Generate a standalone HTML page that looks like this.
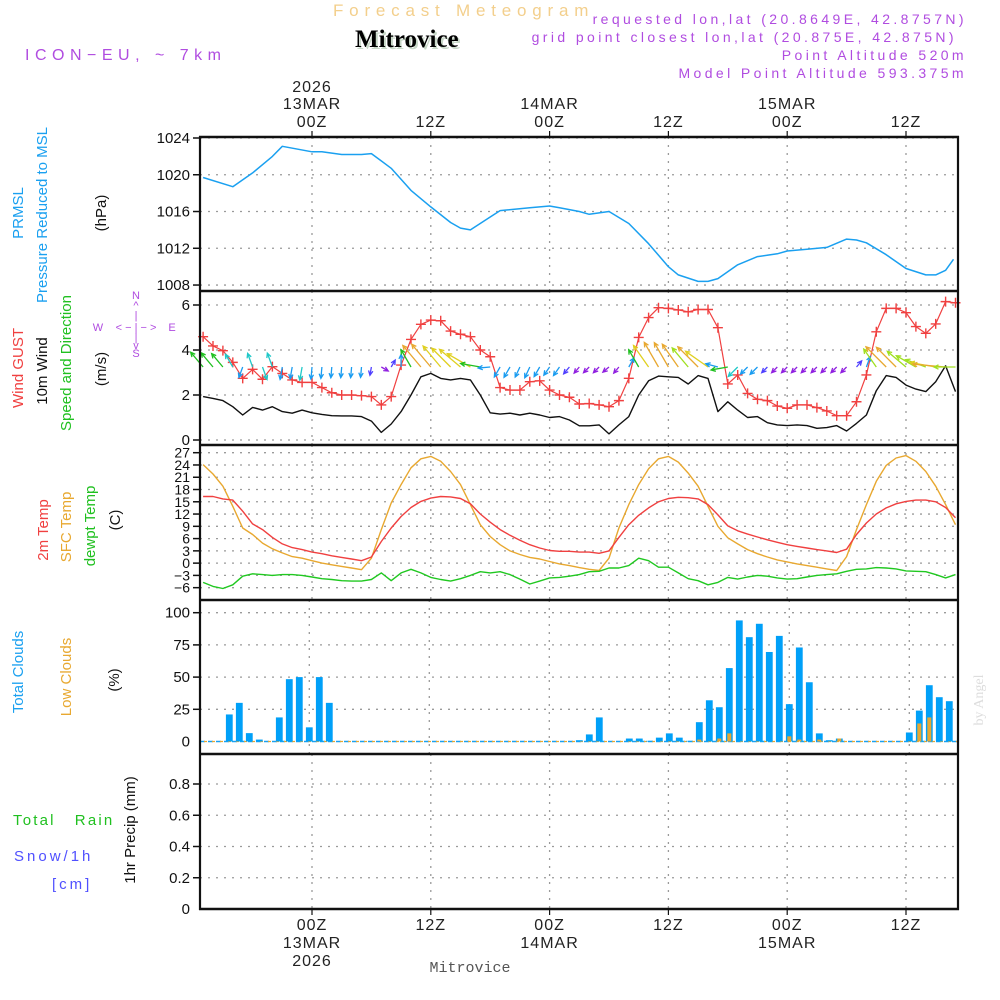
<!DOCTYPE html>
<html><head><meta charset="utf-8"><title>Meteogram Mitrovice</title>
<style>
html,body{margin:0;padding:0;background:#fff;width:1000px;height:1000px;overflow:hidden}
svg{display:block;font-family:"Liberation Sans",sans-serif}
.pur{fill:#b04ce0;font-size:14px;letter-spacing:3.4px}
</style></head>
<body>
<svg id="chart" width="1000" height="1000" viewBox="0 0 1000 1000" xmlns="http://www.w3.org/2000/svg">
<text x="333" y="16" font-size="17" fill="#f3cf8c" letter-spacing="5.8">Forecast Meteogram</text>
<text x="357" y="49" font-family="Liberation Serif,serif" font-weight="bold" font-size="25" fill="#c8d8c8">Mitrovice</text>
<text x="355" y="47" font-family="Liberation Serif,serif" font-weight="bold" font-size="25" fill="#000">Mitrovice</text>
<text class="pur" x="967" y="24" text-anchor="end">requested lon,lat (20.8649E, 42.8757N)</text>
<text class="pur" x="957" y="42" text-anchor="end">grid point closest lon,lat (20.875E, 42.875N)</text>
<text class="pur" x="967" y="60" text-anchor="end">Point Altitude 520m</text>
<text class="pur" x="967" y="78" text-anchor="end">Model Point Altitude 593.375m</text>
<text x="25" y="60" font-size="16" fill="#b04ce0" letter-spacing="5.5">ICON−EU, ~ 7km</text>

<text transform="translate(23,213) rotate(-90)" text-anchor="middle" font-size="15" fill="#1aa0f0">PRMSL</text>
<text transform="translate(47,215) rotate(-90)" text-anchor="middle" font-size="15" fill="#1aa0f0">Pressure Reduced to MSL</text>
<text transform="translate(106,213) rotate(-90)" text-anchor="middle" font-size="15" fill="#111">(hPa)</text>
<text transform="translate(23,368) rotate(-90)" text-anchor="middle" font-size="15" fill="#f04040">Wind GUST</text>
<text transform="translate(47,371) rotate(-90)" text-anchor="middle" font-size="15" fill="#111">10m Wind</text>
<text transform="translate(71,363) rotate(-90)" text-anchor="middle" font-size="15" fill="#20c020">Speed and Direction</text>
<text transform="translate(106,369) rotate(-90)" text-anchor="middle" font-size="15" fill="#111">(m/s)</text>
<g fill="#b04ce0" font-size="11" text-anchor="middle">
<text x="136" y="299">N</text><text x="136" y="309">^</text><text x="136" y="319">|</text>
<text x="98" y="331">W</text><text x="136" y="331">&lt; − | − &gt;</text><text x="172" y="331">E</text>
<text x="136" y="341">|</text><text x="136" y="349">v</text><text x="136" y="357">S</text>
</g>
<text transform="translate(48,530) rotate(-90)" text-anchor="middle" font-size="15" fill="#f04040">2m Temp</text>
<text transform="translate(71,527) rotate(-90)" text-anchor="middle" font-size="15" fill="#e8a830">SFC Temp</text>
<text transform="translate(95,526) rotate(-90)" text-anchor="middle" font-size="15" fill="#20c020">dewpt Temp</text>
<text transform="translate(120,520) rotate(-90)" text-anchor="middle" font-size="15" fill="#111">(C)</text>
<text transform="translate(23,672) rotate(-90)" text-anchor="middle" font-size="15" fill="#1aa0f0">Total Clouds</text>
<text transform="translate(71,677) rotate(-90)" text-anchor="middle" font-size="15" fill="#e8a830">Low Clouds</text>
<text transform="translate(119,680) rotate(-90)" text-anchor="middle" font-size="15" fill="#111">(%)</text>
<text x="13" y="825" font-size="15" fill="#20c020" letter-spacing="2.2" xml:space="preserve">Total   Rain</text>
<text x="14" y="861" font-size="15" fill="#5050ff" letter-spacing="3">Snow/1h</text>
<text x="52" y="889" font-size="15" fill="#5050ff" letter-spacing="3">[cm]</text>
<text transform="translate(135,830) rotate(-90)" text-anchor="middle" font-size="15" fill="#111">1hr Precip (mm)</text>
<text x="470" y="972" text-anchor="middle" font-family="Liberation Mono,monospace" font-size="15" fill="#555">Mitrovice</text>
<text transform="translate(983,700) rotate(-90)" text-anchor="middle" font-family="Liberation Serif,serif" font-size="14" fill="#ddd">by Angel</text>
<g id="plot"></g>
</svg>
<script>
// ---------- data ----------
const hours = [];
for (let h = -11; h <= 65; h++) hours.push(h);
const timeTickHours = [0, 12, 24, 36, 48, 60];
const topTickLines1 = ["2026", "", "", "", "", ""];
const topTickLines2 = ["13MAR", "", "14MAR", "", "15MAR", ""];
const tickZ = ["00Z", "12Z", "00Z", "12Z", "00Z", "12Z"];
const botTickLines2 = ["13MAR", "", "14MAR", "", "15MAR", ""];
const botTickLines3 = ["2026", "", "", "", "", ""];

const pressureHours = [-11,-8,-6,-4,-3,0,1,3,5,6,8,10,12,14,15,16,18,19,22,24,25,27,28,30,32,34,36,37,39,40,41,43,45,47,48,50,52,54,55,56,58,60,62,63,64,64.8];
const pressure = [1019.7,1018.7,1020.2,1022.0,1023.1,1022.5,1022.5,1022.2,1022.2,1022.3,1020.7,1018.3,1016.5,1014.8,1014.2,1014.0,1015.4,1016.1,1016.4,1016.6,1016.4,1016.0,1015.7,1016.0,1014.7,1012.5,1010.0,1009.1,1008.4,1008.4,1008.7,1010.2,1011.1,1011.4,1011.7,1011.9,1012.1,1013.0,1012.9,1012.6,1011.3,1009.8,1009.1,1009.1,1009.6,1010.8];
const pressureTicks = [1008, 1012, 1016, 1020, 1024];

const gust = [4.59,4.18,3.97,3.45,2.74,3.14,2.70,3.26,2.96,2.67,2.56,
 2.56,2.33,2.10,2.0,2.0,1.97,1.93,1.56,1.93,3.33,4.47,5.14,
 5.33,5.3,4.84,4.70,4.59,4.0,3.70,2.33,2.22,2.22,2.59,2.63,
 2.22,2.0,1.90,1.60,1.62,1.56,1.48,1.75,2.74,4.56,5.44,5.88,
 5.85,5.78,5.7,5.8,5.8,4.99,2.49,2.89,2.07,1.81,1.75,1.51,
 1.41,1.56,1.56,1.44,1.29,1.08,1.08,1.70,2.89,4.81,5.85,5.85,
 5.66,5.04,4.74,5.16,6.15,6.1];
const windSpeed = [1.93,1.85,1.75,1.48,1.11,1.45,1.33,1.48,1.26,1.19,1.33,
 1.21,1.14,1.08,1.07,1.07,1.04,0.84,0.34,0.71,1.26,2.0,2.81,
 2.96,2.74,2.67,2.74,2.67,2.0,1.21,1.15,1.19,1.11,1.19,1.11,
 1.0,1.04,0.89,0.63,0.63,0.67,0.27,0.67,1.04,2.0,2.63,2.84,
 2.81,2.78,2.49,2.86,2.74,1.26,1.7,1.33,1.0,1.04,0.77,0.67,
 0.64,0.67,0.64,0.52,0.55,0.64,0.40,0.74,1.11,2.19,2.86,2.78,
 2.44,2.26,2.15,2.59,3.30,2.15];
const windDir = [-40,-40,-40,-30,200,-20,160,-20,190,190,190,
 185,185,185,185,185,185,190,120,30,0,-30,-40,
 -40,-40,-45,-50,-60,-80,-95,210,210,205,205,210,
 215,215,220,220,225,225,230,220,30,-30,-35,-30,
 -30,-35,-40,-45,-55,-75,-100,225,225,225,225,225,
 225,225,225,225,225,225,225,40,20,-35,-45,-45,
 -50,-60,-70,-80,-85,-90];
const windTicks = [0, 2, 4, 6];

const temp2m = [16.3,16.3,15.7,15.4,12.7,9.6,8.2,6.3,4.7,3.8,3.3,
 2.7,2.3,1.8,1.4,1.0,0.6,1.5,5.3,8.6,11.4,13.6,15.1,
 15.9,16.3,16.2,15.8,14.5,12.0,10.0,8.2,6.8,5.6,4.5,3.7,
 3.1,2.9,2.9,2.7,2.7,2.4,3.0,6.3,9.4,11.7,13.5,15.0,
 15.8,16.1,16.0,15.7,14.3,11.8,9.1,7.9,7.1,6.4,5.7,5.1,
 4.5,4.1,3.7,3.3,3.0,2.6,3.4,7.0,9.8,12.0,13.5,14.5,
 15.1,15.4,15.4,15.0,13.6,11.1];
const sfcTemp = [24.1,21.8,18.8,13.9,8.6,7.0,4.9,3.5,2.5,1.6,1.2,
 0.6,0.0,-0.4,-0.8,-1.2,-1.6,1.2,8.2,14.7,19.2,23.3,25.5,
 26.1,24.9,22.4,19.2,14.3,9.4,6.5,4.5,3.0,2.1,1.4,1.0,
 0.4,-0.2,-0.6,-1.1,-1.5,-1.8,1.2,8.6,14.3,19.2,23.1,25.5,
 26.1,24.7,22.0,18.8,13.9,9.0,6.2,4.7,3.3,2.3,1.5,0.8,
 0.3,-0.2,-0.6,-1.0,-1.4,-1.8,1.6,8.2,14.3,20.0,23.9,25.7,
 26.3,24.9,22.4,18.8,14.3,9.4];
const dewpt = [-4.7,-5.7,-6.2,-5.3,-3.2,-2.6,-2.8,-3.0,-2.8,-2.8,-3.0,
 -3.4,-3.8,-4.0,-4.3,-4.4,-4.4,-4.0,-2.4,-4.3,-2.4,-1.5,-2.4,
 -3.5,-4.0,-4.4,-3.8,-3.0,-2.1,-2.4,-2.1,-2.8,-3.9,-5.1,-4.4,
 -3.6,-3.5,-3.2,-2.8,-2.1,-2.0,-1.2,-1.2,-0.6,1.2,0.6,-1.0,
 -1.0,-2.4,-3.8,-4.3,-5.3,-4.7,-3.5,-3.9,-3.4,-3.0,-3.2,-3.6,
 -3.9,-3.8,-3.4,-3.0,-2.8,-2.6,-2.0,-1.5,-1.4,-1.1,-1.2,-1.4,
 -1.9,-2.0,-2.1,-2.8,-3.6,-2.8];
const tempTicks = [-6,-3,0,3,6,9,12,15,18,21,24,27];

const totalClouds = [0,0,0,21,30,6.5,1.5,0,18.7,48.4,50,
 11,50,30,0,0,0,0,0,0,0,0,0,
 0,0,0,0,0,0,0,0,0,0,0,0,
 0,0,0,1,5.5,18.7,0,0,2.3,2.3,0.5,3,
 6.3,3,0.5,15,32,26.6,57,94,81,91.4,69.5,82,
 29,73,46,6.3,1,2.3,0,0,0,0,0,0,
 7,24,43.7,34.4,31.3,0];
const lowClouds = [0,0,0,0,0,0,0,0,0,0,0,
 0,0,0,0,0,0,0,0,0,0,0,0,
 0,0,0,0,0,0,0,0,0,0,0,0,
 0,0,0,0,0,0,0,0,0,0,0,0,
 0,0,0,1.5,0,2.3,6.3,0,0,0,0,0,
 4,1.5,0,1.5,0,2.3,0,0,0,0,0,0,
 0,14,18.7,0,0,0];
const cloudTicks = [0,25,50,75,100];
const precipTicks = [0,0.2,0.4,0.6,0.8];

// ---------- scales ----------
const X0 = 200, X1 = 958;
const xT = h => 312 + 9.9 * h;
const xC = h => 309.3 + 10 * h;
const yP = p => 138 + (1024 - p) * 9.19;
const yW = v => 440 - 22.5 * v;
const yT = t => 452.7 + (27 - t) * 4.09;
const yC = c => 741.5 - 1.288 * c;
const yR = r => 909 - 156.25 * r;

const NS = 'http://www.w3.org/2000/svg';
const plot = document.getElementById('plot');
function mk(tag, attrs, parent) {
  const e = document.createElementNS(NS, tag);
  for (const k in attrs) e.setAttribute(k, attrs[k]);
  (parent || plot).appendChild(e);
  return e;
}
const GRID = {stroke:'#9a9a9a','stroke-width':1.3,'stroke-dasharray':'2,6'};

function hGrid(vals, yf, name) {
  vals.forEach(v => {
    const l = mk('line', Object.assign({x1:X0, x2:X1, y1:yf(v), y2:yf(v)}, GRID));
    
    
    const tk = mk('line', {x1:X0-7, x2:X0, y1:yf(v), y2:yf(v), stroke:'#111', 'stroke-width':1.5});
    
    
  });
}
function tickLabels(vals, yf, name, fs, fmt) {
  vals.forEach(v => {
    const t = mk('text', {x:190, y:yf(v)+5, 'text-anchor':'end', 'font-size':fs, fill:'#111'});
    t.textContent = fmt ? fmt(v) : String(v);
    
    
  });
}
function vGrid(y1, y2, xf, name) {
  timeTickHours.forEach(h => {
    const l = mk('line', Object.assign({x1:xf(h), x2:xf(h), y1:y1, y2:y2}, GRID));
    
    
  });
}
function poly(hs, vs, xf, yf, color, name, w) {
  const pts = hs.map((h, i) => xf(h).toFixed(1) + ',' + yf(vs[i]).toFixed(1)).join(' ');
  const p = mk('polyline', {points:pts, fill:'none', stroke:color, 'stroke-width':w || 1.4, 'stroke-linejoin':'round'});
  
  
}

// panel 1 pressure
hGrid(pressureTicks, yP, 'pressure');
tickLabels(pressureTicks, yP, 'pressure', 15);
vGrid(137, 290, xT, 'pressure');
poly(pressureHours, pressure, xT, yP, '#1aa0f0', 'pressure-line', 1.5);

// panel 2 wind
hGrid(windTicks, yW, 'wind');
tickLabels(windTicks, yW, 'wind', 15);
vGrid(291, 445, xT, 'wind');
poly(hours, windSpeed, xT, yW, '#111', 'wind-speed-line', 1.4);
poly(hours, gust, xT, yW, '#f04040', 'wind-gust-line', 1.2);
hours.forEach((h, i) => {
  const x = xT(h), y = yW(gust[i]);
  const m = mk('path', {d:`M${x-5},${y}H${x+5}M${x},${y-5}V${y+5}`, stroke:'#f04040', 'stroke-width':1.4});
  
  
});
function windColor(s) {
  if (s < 0.7) return '#9020e0';
  if (s < 0.95) return '#5040ff';
  if (s < 1.3) return '#1a9cf0';
  if (s < 1.6) return '#20c8c8';
  if (s < 2.1) return '#20c020';
  if (s < 2.5) return '#a0e020';
  if (s < 2.75) return '#e0d020';
  return '#e8a830';
}
hours.forEach((h, i) => {
  const s = windSpeed[i];
  const L = Math.max(8, 10 * s);
  const a = windDir[i] * Math.PI / 180;
  const bx = xT(h), by = 367;
  const tx = bx + L * Math.sin(a), ty = by - L * Math.cos(a);
  const ha1 = a + Math.PI - 0.45, ha2 = a + Math.PI + 0.45;
  const d = `M${bx},${by}L${tx},${ty}M${tx+5*Math.sin(ha1)},${ty-5*Math.cos(ha1)}L${tx},${ty}L${tx+5*Math.sin(ha2)},${ty-5*Math.cos(ha2)}`;
  const ar = mk('path', {d:d, fill:'none', stroke:windColor(s), 'stroke-width':1.3});
  
  
});

// panel 3 temperatures
hGrid(tempTicks, yT, 'temp');
tickLabels(tempTicks, yT, 'temp', 14, v => v < 0 ? '−' + Math.abs(v) : String(v));
vGrid(445, 600, xT, 'temp');
poly(hours, sfcTemp, xT, yT, '#e8a830', 'sfc-temp-line', 1.4);
poly(hours, temp2m, xT, yT, '#f04040', 'temp-2m-line', 1.4);
poly(hours, dewpt, xT, yT, '#20c820', 'dewpt-line', 1.4);

// panel 4 clouds
hGrid(cloudTicks.slice(1), yC, 'clouds');
tickLabels(cloudTicks, yC, 'clouds', 15);
vGrid(600, 754, xC, 'clouds');
const base = mk('line', {x1:X0, x2:X1, y1:yC(0), y2:yC(0), stroke:'#1aa0f0', 'stroke-width':1.5, 'stroke-dasharray':'5,3'});


const base2 = mk('line', {x1:X0+4, x2:X1, y1:yC(0), y2:yC(0), stroke:'#e8a830', 'stroke-width':1.2, 'stroke-dasharray':'3,5'});


hours.forEach((h, i) => {
  if (totalClouds[i] > 0) {
    const b = mk('rect', {x:xC(h)-3.4, y:yC(totalClouds[i]), width:6.8, height:yC(0)-yC(totalClouds[i]), fill:'#00a0f8'});
    
    
  }
  if (lowClouds[i] > 0) {
    const b2 = mk('rect', {x:xC(h)-2, y:yC(lowClouds[i]), width:4, height:yC(0)-yC(lowClouds[i]), fill:'#e8a830'});
    
    
  }
});

// panel 5 precip
hGrid(precipTicks.slice(1), yR, 'precip');
tickLabels(precipTicks, yR, 'precip', 15);
vGrid(754, 909, xT, 'precip');

// frames
[[137],[291],[445],[600],[754],[909]].forEach(([y]) => {
  const l = mk('line', {x1:X0-1, x2:X1+1, y1:y, y2:y, stroke:'#111', 'stroke-width':2.4});
  
  
});
const lf = mk('line', {x1:X0, x2:X0, y1:136, y2:910, stroke:'#111', 'stroke-width':2.2});


const rf = mk('line', {x1:X1, x2:X1, y1:136, y2:910, stroke:'#111', 'stroke-width':2.2});



// time axis labels
timeTickHours.forEach((h, i) => {
  const x = xT(h);
  const tt = mk('line', {x1:x, x2:x, y1:131, y2:137, stroke:'#111', 'stroke-width':1.2});
  
  
  const bt = mk('line', {x1:x, x2:x, y1:909, y2:915, stroke:'#111', 'stroke-width':1.2});
  
  
  const rows = [[topTickLines1[i], 92], [topTickLines2[i], 109], [tickZ[i], 127], [tickZ[i], 930], [botTickLines2[i], 948], [botTickLines3[i], 966]];
  rows.forEach(([s, y]) => {
    if (!s) return;
    const t = mk('text', {x:x, y:y, 'text-anchor':'middle', 'font-size':16, fill:'#222', 'letter-spacing':1});
    t.textContent = s;
    
    
  });
});
</script>
</body></html>
